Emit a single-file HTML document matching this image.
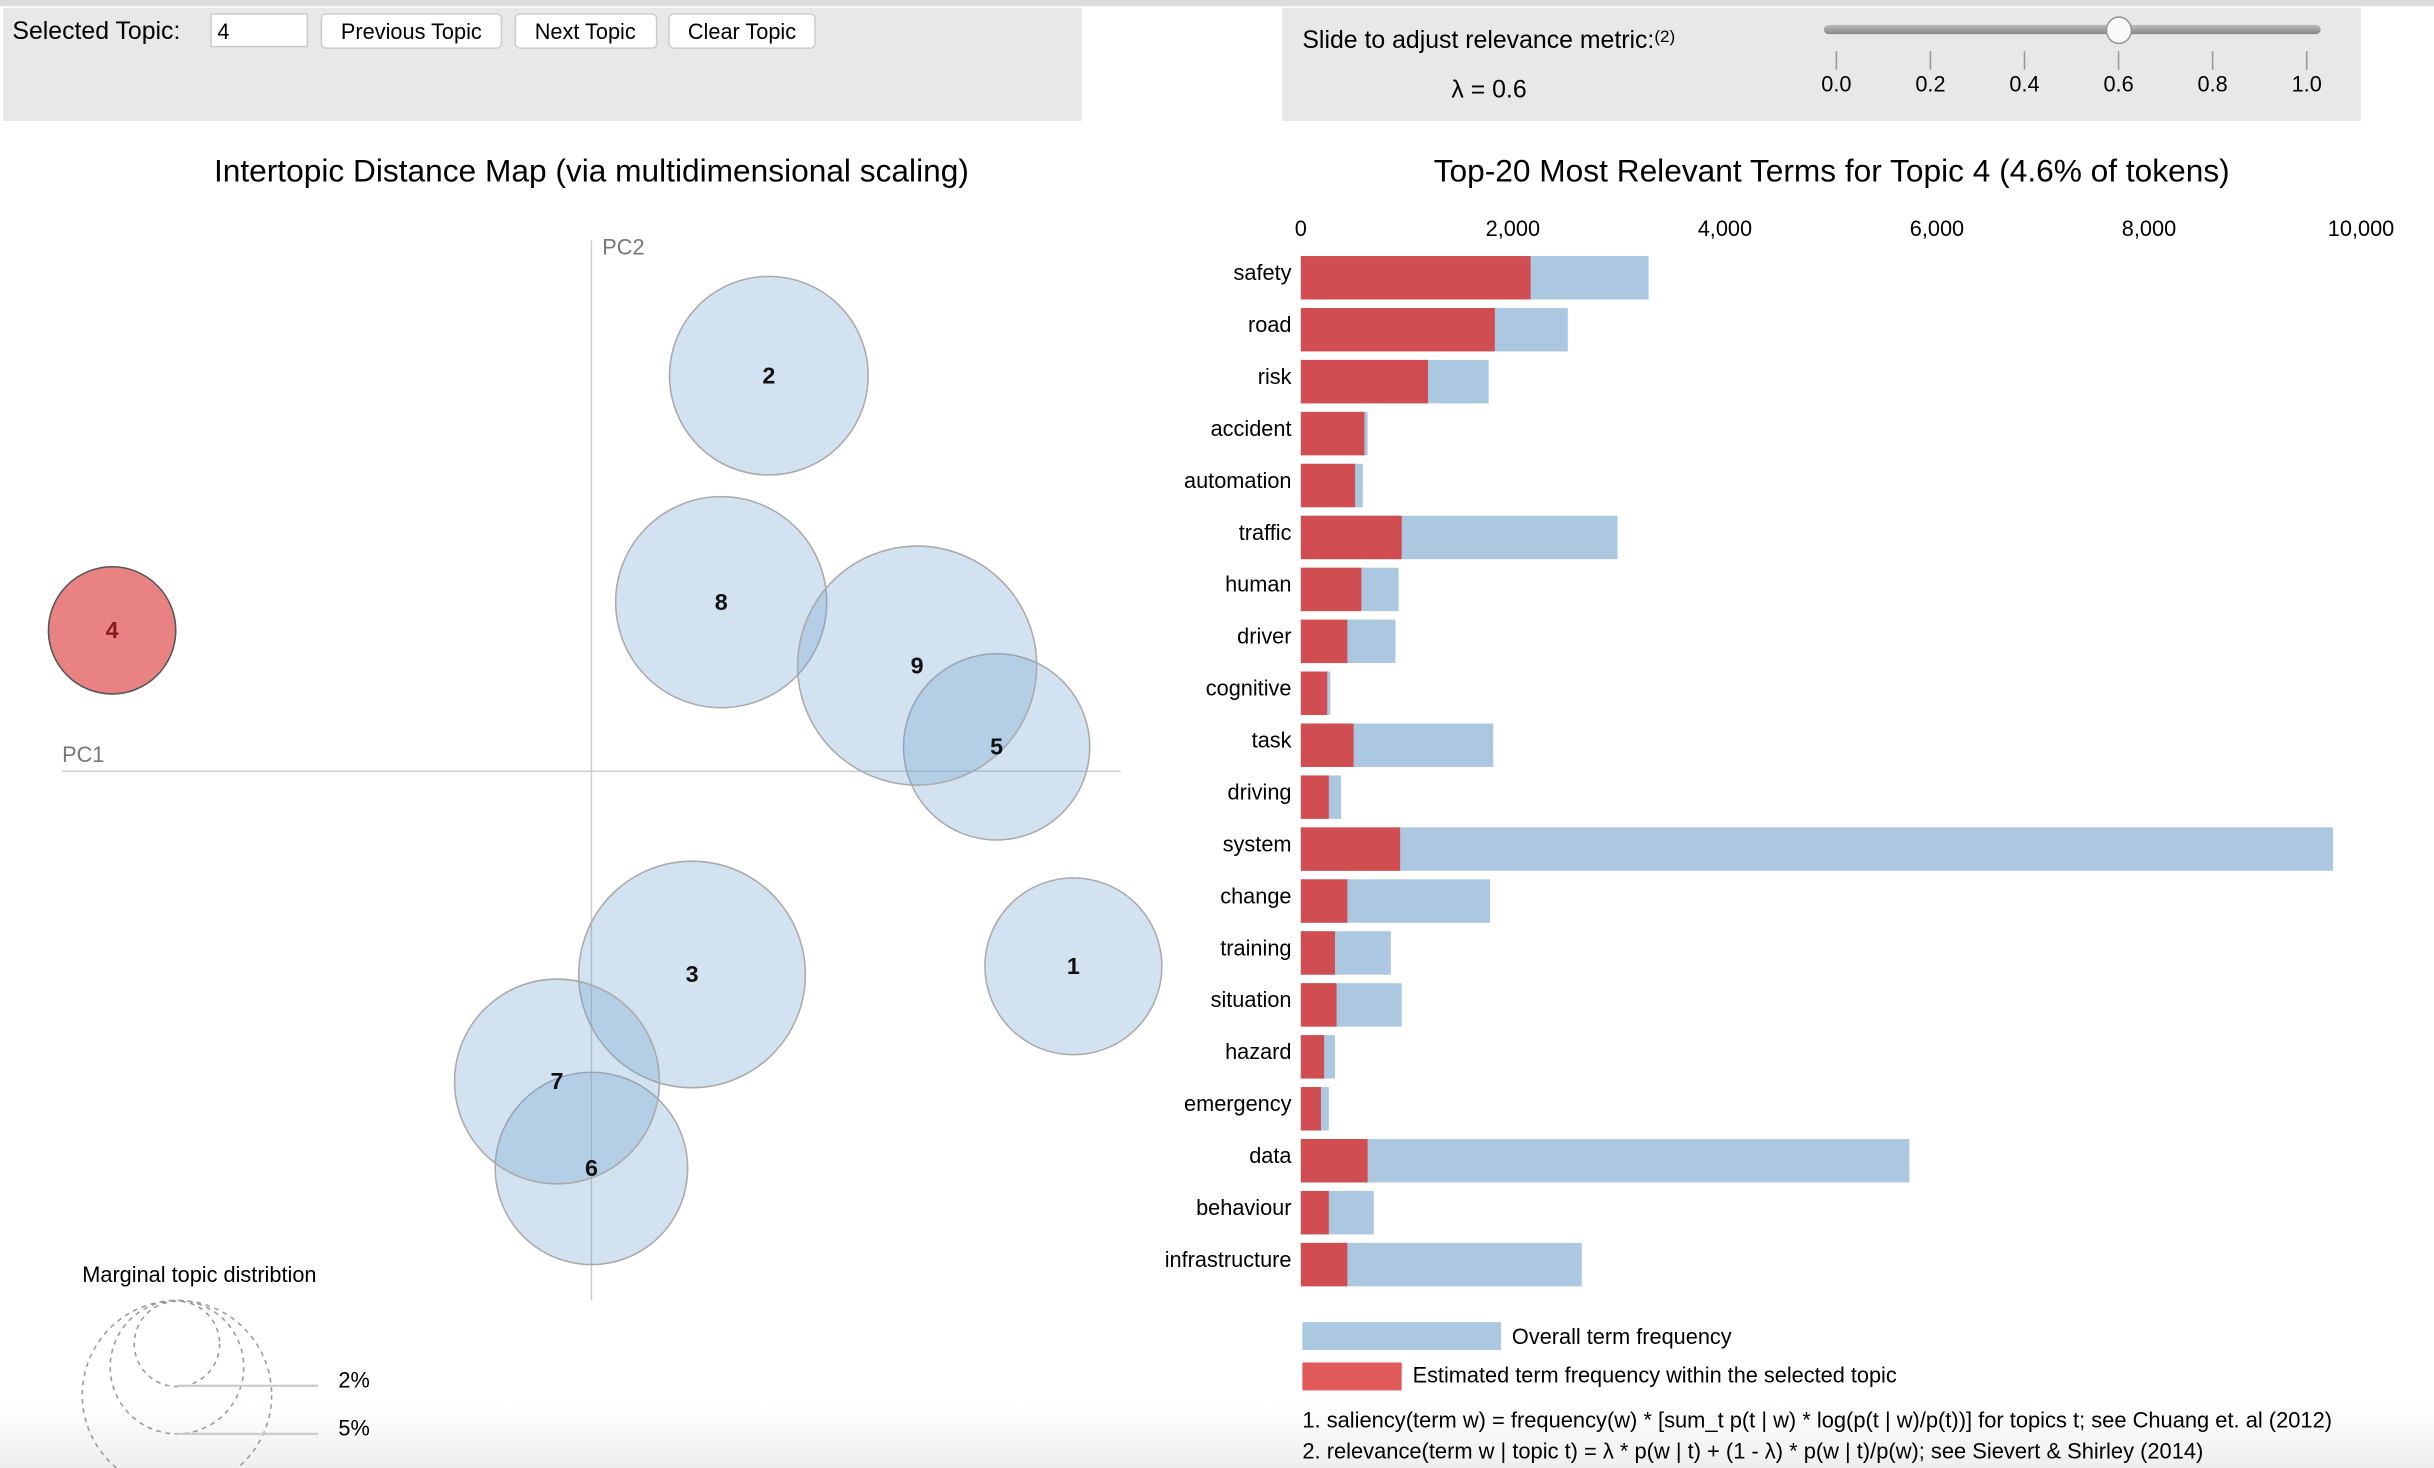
<!DOCTYPE html>
<html><head><meta charset="utf-8">
<style>
html,body{margin:0;padding:0;background:#fff;overflow:hidden}
svg{display:block;font-family:"Liberation Sans",Arial,sans-serif}
</style></head>
<body>
<svg id="root" width="2434" height="1468" viewBox="0 0 1568 946" preserveAspectRatio="none" xmlns="http://www.w3.org/2000/svg">
<defs>
<linearGradient id="foot" x1="0" y1="0" x2="0" y2="1"><stop offset="0" stop-color="#fff"/><stop offset="1" stop-color="#eeeeee"/></linearGradient>
<linearGradient id="track" x1="0" y1="0" x2="0" y2="1"><stop offset="0" stop-color="#bbb"/><stop offset="1" stop-color="#888"/></linearGradient>
</defs>
<rect x="0" y="905" width="1568" height="41" fill="url(#foot)"/>
<rect x="0" y="0" width="1568" height="4" fill="#dddddd"/>
<g>
<rect x="2" y="5" width="695" height="73" fill="#e8e8e8"/>
<text x="8" y="25" font-size="16" fill="#000">Selected Topic:</text>
<rect x="136" y="9" width="62" height="21" fill="#fff" stroke="#ccc"/>
<text x="140" y="25" font-size="14">4</text>
<rect x="207" y="9" width="116" height="22" rx="3" fill="#fff" stroke="#ccc"/>
<text x="265" y="25" font-size="14" text-anchor="middle">Previous Topic</text>
<rect x="332" y="9" width="91" height="22" rx="3" fill="#fff" stroke="#ccc"/>
<text x="377" y="25" font-size="14" text-anchor="middle">Next Topic</text>
<rect x="431" y="9" width="94" height="22" rx="3" fill="#fff" stroke="#ccc"/>
<text x="478" y="25" font-size="14" text-anchor="middle">Clear Topic</text>
</g>
<g>
<rect x="826" y="5" width="695" height="73" fill="#e8e8e8"/>
<text x="839" y="31" font-size="16">Slide to adjust relevance metric:<tspan font-size="11" dy="-4">(2)</tspan></text>
<text x="935" y="63" font-size="16">λ = 0.6</text>
<rect x="1175" y="16" width="320" height="6" rx="3" fill="url(#track)"/>
<ellipse cx="1365" cy="19.5" rx="8" ry="8.5" fill="#fafafa" stroke="#999"/>
<g id="sliderTicks"></g>
</g>
<text x="381" y="117" font-size="20.4" text-anchor="middle">Intertopic Distance Map (via multidimensional scaling)</text>
<text x="1180" y="117" font-size="20.4" text-anchor="middle">Top-20 Most Relevant Terms for Topic 4 (4.6% of tokens)</text>
<line x1="381" y1="155" x2="381" y2="838" stroke="#ccc"/>
<line x1="40" y1="497" x2="722" y2="497" stroke="#ccc"/>
<text x="388" y="164" font-size="14" fill="#777">PC2</text>
<text x="40" y="491" font-size="14" fill="#777">PC1</text>
<g id="circles"></g>
<g>
<text x="53" y="826" font-size="14">Marginal topic distribtion</text>
<circle cx="114" cy="866" r="27.5" fill="none" stroke="#999" stroke-dasharray="3,3"/>
<circle cx="114" cy="881" r="43" fill="none" stroke="#999" stroke-dasharray="3,3"/>
<circle cx="114" cy="899" r="61" fill="none" stroke="#999" stroke-dasharray="3,3"/>
<line x1="114" y1="893" x2="205" y2="893" stroke="#ccc" stroke-width="1.5"/>
<line x1="114" y1="924" x2="205" y2="924" stroke="#ccc" stroke-width="1.5"/>
<text x="218" y="894" font-size="14">2%</text>
<text x="218" y="925" font-size="14">5%</text>
</g>
<g id="bars"></g>
<rect x="839" y="852" width="128" height="18" fill="#abc8e0"/>
<text x="974" y="866" font-size="14">Overall term frequency</text>
<rect x="839" y="878" width="64" height="18" fill="#e05a5a"/>
<text x="910" y="891" font-size="14">Estimated term frequency within the selected topic</text>
<text x="839" y="920" font-size="14.1">1. saliency(term w) = frequency(w) * [sum_t p(t | w) * log(p(t | w)/p(t))] for topics t; see Chuang et. al (2012)</text>
<text x="839" y="940" font-size="14.1">2. relevance(term w | topic t) = λ * p(w | t) + (1 - λ) * p(w | t)/p(w); see Sievert &amp; Shirley (2014)</text>
</svg>
<script>
const NS="http://www.w3.org/2000/svg";
const sliderTickLabels=["0.0","0.2","0.4","0.6","0.8","1.0"];
const topicIds=["1","2","3","4","5","6","7","8","9"];
const topicPC1=[0.182,0.067,0.038,-0.181,0.153,0,-0.013,0.049,0.123];
const topicPC2=[-0.072,0.146,-0.075,0.052,0.009,-0.1466,-0.1145,0.0624,0.039];
const topicSize=[57,64,73,41,60,62,66,68,77];
const terms=["safety","road","risk","accident","automation","traffic","human","driver","cognitive","task","driving","system","change","training","situation","hazard","emergency","data","behaviour","infrastructure"];
const overallFreq=[3280,2518,1772,630,585,2987,922,893,278,1815,380,9736,1786,849,952,322,264,5740,688,2650];
const topicFreq=[2167,1830,1200,600,512,952,571,439,249,498,264,937,439,322,337,220,190,630,264,439];
const xTicks=[0,2000,4000,6000,8000,10000];
const xTickLabels=["0","2,000","4,000","6,000","8,000","10,000"];

function mk(tag,attrs,parent){const e=document.createElementNS(NS,tag);for(const k in attrs)e.setAttribute(k,attrs[k]);parent.appendChild(e);return e;}
const st=document.getElementById('sliderTicks');
sliderTickLabels.forEach((lab,i)=>{
  const x=1183+i*(1486-1183)/5;
  const l=mk('line',{x1:x,y1:33,x2:x,y2:45,stroke:'#999'},st);
  
  
  const t=mk('text',{x:x,y:59,'font-size':14,'text-anchor':'middle'},st);
  t.textContent=lab;
  
  
});
const px=v=>381+v*1706;
const py=v=>497-v*1746;
const cg=document.getElementById('circles');
topicIds.forEach((id,i)=>{
  const sel=id==="4";
  const c=mk('circle',{cx:px(topicPC1[i]),cy:py(topicPC2[i]),r:topicSize[i],
    fill:sel?'rgba(228,100,100,0.8)':'rgba(110,160,205,0.3)',stroke:sel?'#555':'#aaa','stroke-width':1},cg);
  
  
});
topicIds.forEach((id,i)=>{
  const sel=id==="4";
  const t=mk('text',{x:px(topicPC1[i]),y:py(topicPC2[i])+5,'font-size':15,'font-weight':'bold','text-anchor':'middle',fill:sel?'#8b1a1a':'#111'},cg);
  t.textContent=id;
  
  
});
const bx=v=>838+v*0.0683;
const by=i=>179+i*33.47;
const bg=document.getElementById('bars');
xTicks.forEach((v,i)=>{
  const t=mk('text',{x:bx(v),y:152,'font-size':14,'text-anchor':'middle'},bg);
  t.textContent=xTickLabels[i];
  
  
});
terms.forEach((term,i)=>{
  const y=by(i);
  const b=mk('rect',{x:bx(0),y:y-14,width:bx(overallFreq[i])-bx(0),height:28,fill:'#abc8e0'},bg);
  
  
  const r=mk('rect',{x:bx(0),y:y-14,width:bx(topicFreq[i])-bx(0),height:28,fill:'#d04e52'},bg);
  
  
  const t=mk('text',{x:832,y:y+1.5,'font-size':14,'text-anchor':'end'},bg);
  t.textContent=term;
  
  
});
</script>
</body></html>
